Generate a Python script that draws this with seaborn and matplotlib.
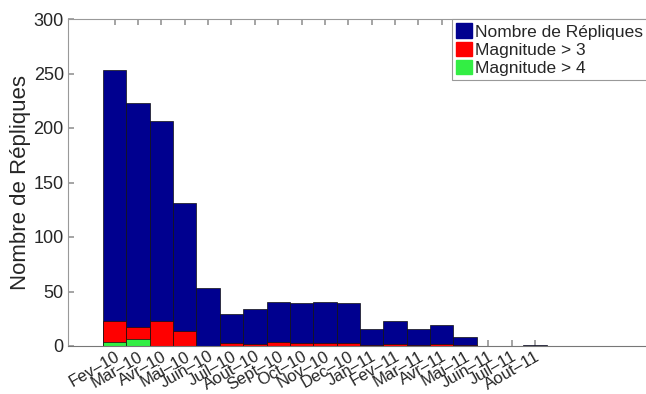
import matplotlib
matplotlib.use("Agg")
import matplotlib.pyplot as plt
import seaborn as sns
import pandas as pd
from matplotlib.patches import Patch

months = ["Fev–10", "Mar–10", "Avr–10", "Mai–10", "Juin–10", "Juil–10", "Aout–10",
          "Sept–10", "Oct–10", "Nov–10", "Dec–10", "Jan–11", "Fev–11", "Mar–11",
          "Avr–11", "Mai–11", "Juin–11", "Juil–11", "Aout–11"]
total = [253, 223, 206, 131, 53, 29, 34, 40, 39, 40, 39, 16, 23, 16, 19, 8, 0, 0, 1]
mag3 = [23, 17, 23, 14, 0, 3, 2, 4, 3, 3, 3, 1, 2, 1, 2, 1, 0, 0, 0]
mag4 = [4, 6, 0, 0, 0, 0, 0, 0, 0, 0, 0, 0, 0, 0, 0, 0, 0, 0, 0]

df = pd.DataFrame({"mois": months, "total": total, "m3": mag3, "m4": mag4})

sns.set_theme(style="white")
plt.rcParams["font.family"] = ["Liberation Sans", "DejaVu Sans"]

blue = "#00008f"
red = "#ff0000"
green = "#33ee44"

fig = plt.figure(figsize=(6.46, 3.94), dpi=100)
ax = fig.add_axes([68 / 646, 1 - 346 / 394, 1 - 68 / 646, (346 - 19) / 394])

for col, c in (("total", blue), ("m3", red), ("m4", green)):
    sns.barplot(data=df, x="mois", y=col, color=c, width=1.0, saturation=1,
                edgecolor="#111111", linewidth=0.5, ax=ax, order=months)

ax.set_xlim(-2.0, 22.75)
ax.set_ylim(0, 300)
ax.set_yticks([0, 50, 100, 150, 200, 250, 300])
ax.set_xlabel("")
ax.set_ylabel("Nombre de Répliques", fontsize=16, labelpad=2)
ax.tick_params(axis="y", labelsize=13, direction="in", length=4, color="#999999",
               right=False, left=True, pad=3)
ax.tick_params(axis="x", labelsize=12, direction="in", length=4, color="#999999",
               top=True, bottom=True, pad=2)
plt.setp(ax.get_xticklabels(), rotation=30, ha="right", rotation_mode="anchor")

for s in ("left", "bottom", "top"):
    ax.spines[s].set_color("#999999")
    ax.spines[s].set_linewidth(0.8)
ax.spines["bottom"].set_color("#777777")
ax.spines["right"].set_visible(False)

handles = [Patch(facecolor=blue, edgecolor=blue),
           Patch(facecolor=red, edgecolor=red),
           Patch(facecolor=green, edgecolor=green)]
labels = ["Nombre de Répliques", "Magnitude > 3", "Magnitude > 4"]
leg = fig.legend(handles, labels, loc="upper left",
                 bbox_to_anchor=(452 / 646, 1 - 19 / 394),
                 fontsize=12.5, frameon=True, fancybox=False, framealpha=1,
                 edgecolor="#999999", handlelength=0.9, handleheight=0.9,
                 handletextpad=0.15, labelspacing=0.12, borderpad=0.25,
                 borderaxespad=0)
leg.get_frame().set_linewidth(0.8)

fig.savefig("out.png", dpi=100)
